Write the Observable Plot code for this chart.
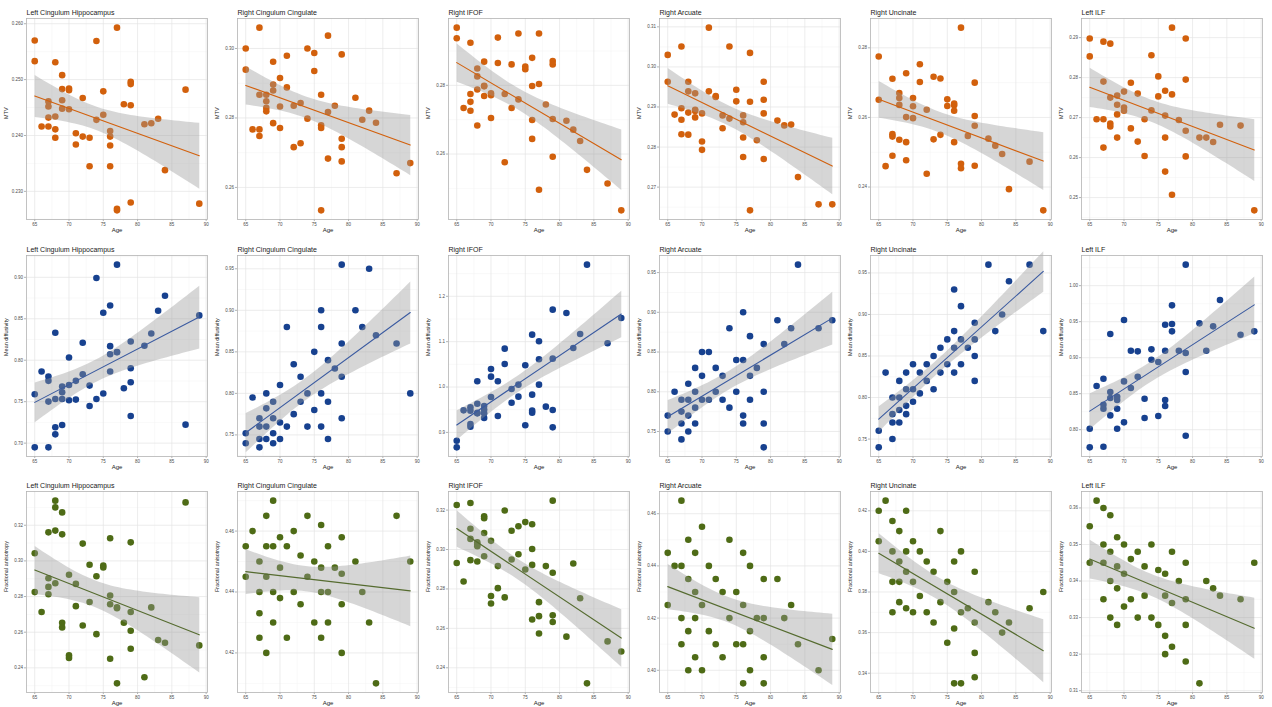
<!DOCTYPE html>
<html><head><meta charset="utf-8">
<script src="https://cdn.jsdelivr.net/npm/d3@7"></script>
<script src="https://cdn.jsdelivr.net/npm/@observablehq/plot@0.6"></script>
<style>
body{margin:0;background:#fff;font-family:"Liberation Sans",Arial,sans-serif}
#grid{position:relative;width:1272px;height:707px;overflow:hidden}
.p{position:absolute}
</style></head><body><div id="grid"></div>
<script>
// Shared subject ages (same subjects in every panel)
const ages = [65,65,66,67,67,67,67,68,68,68,68,69,69,69,69,70,70,70,71,71,72,72,73,73,74,74,75,75,76,76,76,76,77,77,77,78,79,79,79,79,81,82,83,84,87,89];
const xTicks = [65,70,75,80,85,90];
const tracts = ["Left Cingulum Hippocampus","Right Cingulum Cingulate","Right IFOF","Right Arcuate","Right Uncinate","Left ILF"];
const measures = ["MTV","Mean diffusivity","Fractional anisotropy"];
const colors = ["#d2600c","#17418f","#4e6b16"];
const lineColors = ["#d2600c","#3a5aa0","#556b2f"];

// MTV
const mtv_lch = [0.2570,0.2533,0.2416,0.2416,0.2432,0.2452,0.2461,0.2531,0.2434,0.2411,0.2396,0.2508,0.2483,0.2463,0.2448,0.2484,0.2481,0.2447,0.2404,0.2384,0.2467,0.2398,0.2396,0.2345,0.2569,0.2428,0.2479,0.2437,0.2408,0.2398,0.2382,0.2345,0.2593,0.2269,0.2266,0.2456,0.2496,0.2492,0.2454,0.2280,0.2420,0.2422,0.2430,0.2338,0.2482,0.2278];
const mtv_rcc = [0.3000,0.2939,0.2767,0.3060,0.2867,0.2767,0.2748,0.2867,0.2848,0.2829,0.2819,0.2962,0.2896,0.2879,0.2785,0.2915,0.2833,0.2771,0.2979,0.2888,0.2835,0.2716,0.2843,0.2727,0.3000,0.2798,0.2987,0.2935,0.2867,0.2779,0.2771,0.2534,0.3037,0.2817,0.2683,0.2835,0.2983,0.2740,0.2716,0.2675,0.2858,0.2795,0.2821,0.2786,0.2641,0.2670];
const mtv_rifof = [0.2968,0.2937,0.2734,0.2924,0.2775,0.2752,0.2726,0.2849,0.2826,0.2788,0.2683,0.2869,0.2799,0.2797,0.2769,0.2777,0.2771,0.2705,0.2939,0.2865,0.2775,0.2576,0.2861,0.2734,0.2951,0.2759,0.2855,0.2847,0.2880,0.2798,0.2699,0.2644,0.2951,0.2804,0.2496,0.2744,0.2871,0.2861,0.2702,0.2592,0.2697,0.2671,0.2638,0.2554,0.2514,0.2436];
const mtv_rarc = [0.3030,0.2963,0.2881,0.3051,0.2897,0.2868,0.2832,0.2963,0.2939,0.2886,0.2831,0.2934,0.2893,0.2874,0.2890,0.2884,0.2814,0.2793,0.3098,0.2939,0.2927,0.2925,0.2879,0.2847,0.3051,0.2871,0.2943,0.2914,0.2879,0.2862,0.2824,0.2775,0.3035,0.2913,0.2642,0.2817,0.2963,0.2918,0.2884,0.2770,0.2866,0.2854,0.2856,0.2725,0.2657,0.2657];
const mtv_runc = [0.2775,0.2651,0.2460,0.2711,0.2552,0.2545,0.2490,0.2670,0.2656,0.2636,0.2536,0.2727,0.2601,0.2529,0.2477,0.2656,0.2632,0.2598,0.2753,0.2702,0.2622,0.2438,0.2717,0.2537,0.2712,0.2550,0.2652,0.2633,0.2635,0.2619,0.2529,0.2640,0.2858,0.2467,0.2454,0.2547,0.2700,0.2604,0.2576,0.2461,0.2539,0.2519,0.2495,0.2394,0.2473,0.2333];
const mtv_lilf = [0.2898,0.2853,0.2696,0.2890,0.2790,0.2696,0.2625,0.2885,0.2750,0.2685,0.2678,0.2755,0.2732,0.2708,0.2650,0.2765,0.2725,0.2717,0.2787,0.2673,0.2760,0.2640,0.2696,0.2604,0.2856,0.2718,0.2803,0.2753,0.2767,0.2705,0.2650,0.2565,0.2925,0.2758,0.2507,0.2694,0.2898,0.2795,0.2667,0.2603,0.2650,0.2650,0.2639,0.2682,0.2680,0.2468];

// Mean diffusivity
const md_lch = [0.7589,0.6949,0.7864,0.7803,0.7751,0.7501,0.6949,0.8331,0.7533,0.7191,0.7106,0.7682,0.7614,0.7533,0.7219,0.8033,0.7702,0.7517,0.7751,0.7525,0.8210,0.7831,0.7694,0.7448,0.8992,0.7533,0.8573,0.7598,0.8661,0.8170,0.8073,0.7864,0.9153,0.8097,0.8100,0.7662,0.8226,0.7904,0.7735,0.7328,0.8174,0.8323,0.8597,0.8778,0.7223,0.8541];
const md_rcc = [0.752,0.740,0.795,0.770,0.760,0.745,0.735,0.800,0.782,0.760,0.745,0.790,0.770,0.752,0.740,0.810,0.765,0.745,0.880,0.760,0.835,0.775,0.820,0.790,0.800,0.760,0.850,0.780,0.900,0.880,0.800,0.760,0.840,0.790,0.745,0.830,0.955,0.860,0.820,0.770,0.900,0.880,0.950,0.870,0.860,0.800];
const md_rifof = [0.8817,0.8670,0.9486,0.9552,0.9479,0.9185,0.9126,1.0126,0.9633,0.9420,0.9430,0.9582,0.9420,0.9317,0.9500,1.0398,1.0229,0.9780,1.0126,0.9361,1.0846,1.0508,0.9957,0.9655,1.0052,0.9788,1.0479,0.9156,1.1155,0.9832,0.9479,0.9435,1.1008,1.0611,1.0052,0.9567,1.1706,1.0626,0.9494,0.9111,1.1632,1.0861,1.1169,1.2698,1.0964,1.1522];
const md_rarc = [0.770,0.750,0.800,0.790,0.775,0.760,0.740,0.810,0.790,0.770,0.750,0.830,0.800,0.780,0.760,0.850,0.820,0.790,0.850,0.790,0.830,0.800,0.820,0.790,0.880,0.780,0.840,0.800,0.900,0.840,0.770,0.760,0.870,0.820,0.790,0.830,0.860,0.800,0.760,0.730,0.890,0.860,0.880,0.960,0.880,0.890];
const md_runc = [0.760,0.740,0.830,0.800,0.780,0.770,0.750,0.820,0.800,0.785,0.770,0.830,0.810,0.790,0.780,0.840,0.810,0.795,0.830,0.805,0.840,0.820,0.850,0.810,0.860,0.830,0.870,0.840,0.930,0.880,0.860,0.830,0.910,0.870,0.840,0.860,0.890,0.870,0.850,0.820,0.960,0.880,0.900,0.940,0.960,0.880];
const md_lilf = [0.8014,0.7755,0.8606,0.8708,0.8347,0.8292,0.7764,0.9329,0.8523,0.8440,0.8199,0.8458,0.8412,0.8292,0.8014,0.9523,0.8671,0.8102,0.9097,0.8579,0.9088,0.8736,0.8430,0.8162,0.9116,0.8972,0.8940,0.8190,0.9458,0.9097,0.8412,0.8329,0.9727,0.9468,0.9366,0.9097,1.0292,0.9065,0.8801,0.7917,0.9477,0.9097,0.9435,0.9801,0.9319,0.9366];

// Fractional anisotropy
const fa_lch = [0.3043,0.2825,0.2713,0.3160,0.2903,0.2854,0.2813,0.3338,0.3300,0.3170,0.2875,0.3272,0.3149,0.2653,0.2627,0.2922,0.2470,0.2455,0.2871,0.2746,0.3097,0.2638,0.2978,0.2769,0.2914,0.2589,0.2974,0.2963,0.3127,0.2806,0.2757,0.2451,0.2735,0.2313,0.2740,0.2653,0.3104,0.2713,0.2608,0.2507,0.2347,0.2739,0.2556,0.2541,0.3328,0.2526];
const fa_rcc = [0.455,0.445,0.460,0.450,0.440,0.433,0.425,0.465,0.455,0.445,0.420,0.470,0.455,0.440,0.430,0.458,0.448,0.438,0.455,0.425,0.460,0.440,0.452,0.436,0.465,0.445,0.450,0.430,0.462,0.448,0.440,0.425,0.455,0.440,0.430,0.448,0.458,0.446,0.436,0.420,0.450,0.440,0.430,0.410,0.465,0.450];
const fa_rifof = [0.3226,0.2932,0.2838,0.3236,0.3105,0.3054,0.2946,0.3037,0.3017,0.2939,0.3025,0.3169,0.3159,0.3084,0.2966,0.3044,0.2764,0.2726,0.2916,0.2804,0.3198,0.2757,0.3095,0.2949,0.3118,0.2976,0.3139,0.2899,0.3128,0.3003,0.2922,0.2645,0.2733,0.2662,0.2574,0.2916,0.3248,0.2882,0.2666,0.2632,0.2558,0.2929,0.2753,0.2321,0.2534,0.2483];
const fa_rarc = [0.445,0.425,0.440,0.465,0.440,0.420,0.410,0.450,0.435,0.415,0.400,0.445,0.430,0.420,0.405,0.455,0.425,0.400,0.440,0.415,0.435,0.410,0.430,0.405,0.450,0.420,0.430,0.410,0.445,0.425,0.410,0.395,0.440,0.415,0.400,0.420,0.435,0.420,0.405,0.395,0.435,0.420,0.425,0.410,0.400,0.412];
const fa_runc = [0.420,0.405,0.425,0.415,0.400,0.385,0.370,0.410,0.395,0.385,0.375,0.420,0.400,0.390,0.372,0.405,0.385,0.370,0.400,0.378,0.395,0.370,0.390,0.365,0.410,0.375,0.385,0.355,0.395,0.380,0.362,0.335,0.400,0.370,0.335,0.372,0.390,0.365,0.350,0.338,0.375,0.370,0.360,0.365,0.372,0.380];
const fa_lilf = [0.355,0.345,0.362,0.360,0.350,0.345,0.335,0.358,0.348,0.340,0.330,0.352,0.344,0.338,0.328,0.350,0.342,0.333,0.346,0.335,0.348,0.330,0.344,0.336,0.350,0.330,0.343,0.328,0.342,0.336,0.325,0.320,0.348,0.334,0.322,0.340,0.345,0.335,0.328,0.318,0.312,0.340,0.338,0.336,0.335,0.345];

const rows = [
  [mtv_lch, mtv_rcc, mtv_rifof, mtv_rarc, mtv_runc, mtv_lilf],
  [md_lch, md_rcc, md_rifof, md_rarc, md_runc, md_lilf],
  [fa_lch, fa_rcc, fa_rifof, fa_rarc, fa_runc, fa_lilf]
];

const font = '"Liberation Sans", Arial, sans-serif';
const rowTop = [0, 237, 473];
const grid = document.getElementById("grid");

function panel(r, c) {
  const vals = rows[r][c];
  const data = ages.map((a, i) => ({age: a, v: vals[i]}));
  const [lo, hi] = d3.extent(vals);
  const pad = (hi - lo) * 0.05;
  const [alo, ahi] = d3.extent(ages);
  const xpad = (ahi - alo) * 0.05;
  const yTicks = d3.ticks(lo - pad, hi + pad, 4);
  const step = yTicks[1] - yTicks[0];
  const yMinor = [yTicks[0] - step / 2, ...yTicks.map(t => t + step / 2)].filter(t => t > lo - pad && t < hi + pad);
  const xMinor = [62.5, 67.5, 72.5, 77.5, 82.5, 87.5].filter(t => t > alo - xpad && t < ahi + xpad);
  const col = colors[r];
  const chart = Plot.plot({
    width: 211, height: 236,
    marginLeft: 26, marginRight: 4, marginTop: 18, marginBottom: 17,
    style: {fontFamily: font, background: "#fff", overflow: "visible"},
    x: {domain: [alo - xpad, ahi + xpad]},
    y: {domain: [lo - pad, hi + pad]},
    marks: [
      Plot.gridX(xMinor, {stroke: "#f2f2f2", strokeOpacity: 1, strokeWidth: 0.5}),
      Plot.gridY(yMinor, {stroke: "#f2f2f2", strokeOpacity: 1, strokeWidth: 0.5}),
      Plot.gridX(xTicks, {stroke: "#e4e4e4", strokeOpacity: 1, strokeWidth: 0.7}),
      Plot.gridY(yTicks, {stroke: "#e4e4e4", strokeOpacity: 1, strokeWidth: 0.7}),
      Plot.dot(data, {x: "age", y: "v", r: 3.3, fill: col, stroke: "none"}),
      Plot.linearRegressionY(data, {x: "age", y: "v", stroke: lineColors[r], strokeWidth: 1.1, fill: "#999999", fillOpacity: 0.4}),
      Plot.frame({stroke: "#b3b3b3", strokeWidth: 0.8}),
      Plot.axisX(xTicks, {tickSize: 2, tickPadding: 1.5, fontSize: 4.5, fill: "#4d4d4d", stroke: "#b3b3b3", label: null}),
      Plot.axisY(yTicks, {tickSize: 2, tickPadding: 1.5, fontSize: 4.5, fill: "#4d4d4d", stroke: "#b3b3b3", label: null}),
      Plot.text([tracts[c]], {text: d => d, frameAnchor: "top-left", dy: -8, textAnchor: "start", fontSize: 7, fill: "#1a1a1a"}),
      Plot.text(["Age"], {text: d => d, frameAnchor: "bottom", dy: 12, fontSize: 6, fill: "#1a1a1a"}),
      Plot.text([measures[r]], {text: d => d, frameAnchor: "left", dx: -20, rotate: -90, fontSize: 5.5, fill: "#1a1a1a"})
    ]
  });
  const div = document.createElement("div");
  div.className = "p";
  div.style.left = (c * 211) + "px";
  div.style.top = rowTop[r] + "px";
  div.appendChild(chart);
  grid.appendChild(div);
}

for (let r = 0; r < 3; r++) for (let c = 0; c < 6; c++) panel(r, c);
</script>
</body></html>
